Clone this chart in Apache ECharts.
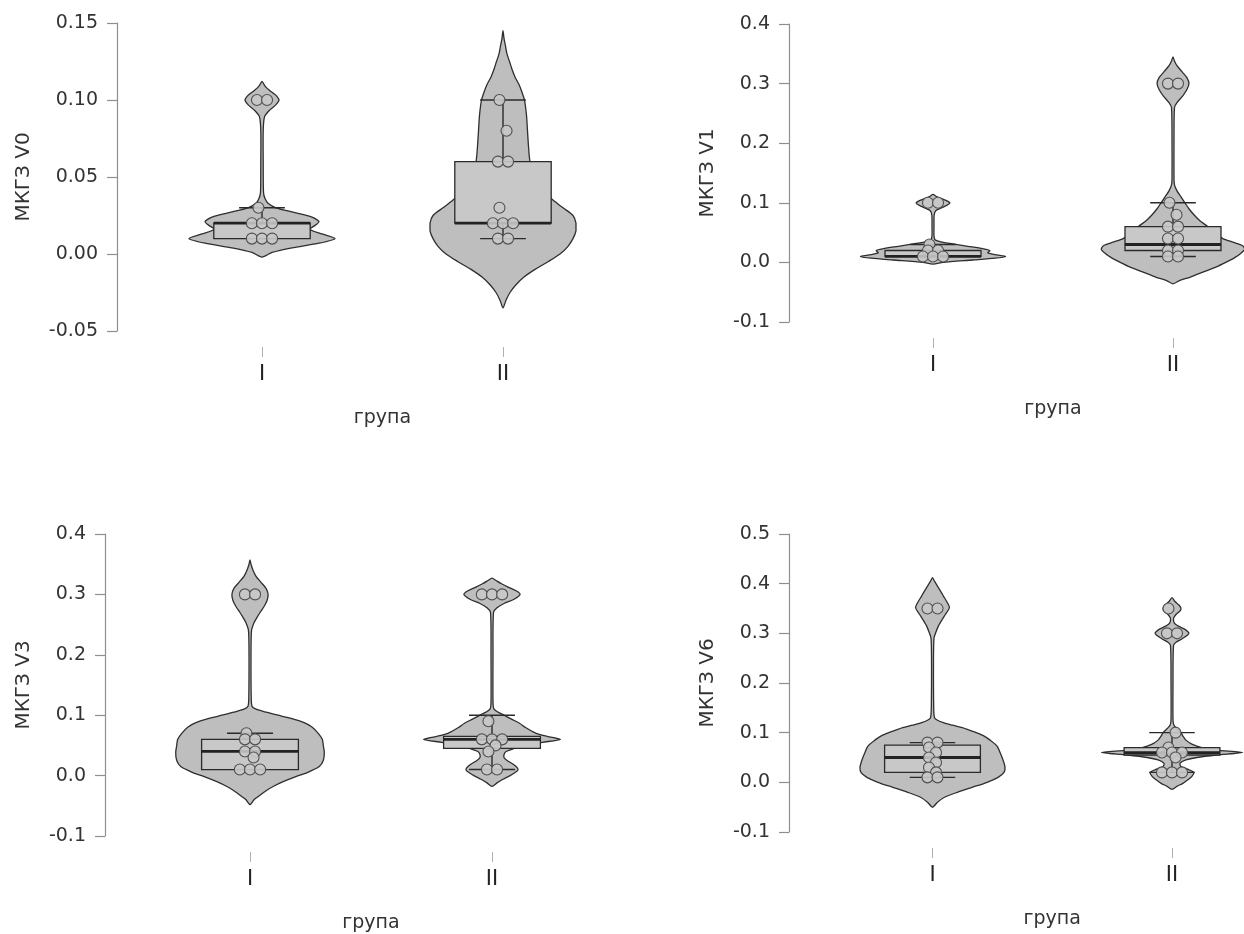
<!DOCTYPE html>
<html><head><meta charset="utf-8">
<script src="https://cdn.jsdelivr.net/npm/echarts@6/dist/echarts.min.js"></script>
<style>html,body{margin:0;padding:0;background:#fff}#c{width:1244px;height:934px}</style>
</head><body><div id="c"></div>
<script>
// ---------- DATA ----------
const groups = ['I', 'II'];
const xTitle = 'група';
const yTitles = ['МКГЗ V0', 'МКГЗ V1', 'МКГЗ V3', 'МКГЗ V6'];
const yMins = [-0.05, -0.1, -0.1, -0.1];
const yMaxs = [0.15, 0.4, 0.4, 0.5];
const yIntervals = [0.05, 0.1, 0.1, 0.1];
const yDecimals = [2, 1, 1, 1];

// observed values (points)
const v0Points_I  = [0.10, 0.10, 0.03, 0.02, 0.02, 0.02, 0.01, 0.01, 0.01];
const v0Points_II = [0.10, 0.08, 0.06, 0.06, 0.03, 0.02, 0.02, 0.02, 0.01, 0.01];
const v1Points_I  = [0.10, 0.10, 0.03, 0.02, 0.02, 0.01, 0.01, 0.01];
const v1Points_II = [0.30, 0.30, 0.10, 0.08, 0.06, 0.06, 0.04, 0.04, 0.02, 0.02, 0.01, 0.01];
const v3Points_I  = [0.30, 0.30, 0.07, 0.06, 0.06, 0.04, 0.04, 0.03, 0.01, 0.01, 0.01];
const v3Points_II = [0.30, 0.30, 0.30, 0.09, 0.06, 0.06, 0.06, 0.05, 0.04, 0.01, 0.01];
const v6Points_I  = [0.35, 0.35, 0.08, 0.08, 0.07, 0.06, 0.05, 0.04, 0.03, 0.02, 0.01, 0.01];
const v6Points_II = [0.35, 0.30, 0.30, 0.10, 0.07, 0.06, 0.06, 0.06, 0.05, 0.02, 0.02, 0.02];

// box stats: [lower whisker, Q1, median, Q3, upper whisker]
const v0Box_I  = [0.01, 0.01, 0.02, 0.02, 0.03];
const v0Box_II = [0.01, 0.02, 0.02, 0.06, 0.10];
const v1Box_I  = [0.01, 0.01, 0.01, 0.02, 0.03];
const v1Box_II = [0.01, 0.02, 0.03, 0.06, 0.10];
const v3Box_I  = [0.01, 0.01, 0.04, 0.06, 0.07];
const v3Box_II = [0.01, 0.045, 0.06, 0.065, 0.10];
const v6Box_I  = [0.01, 0.02, 0.05, 0.075, 0.08];
const v6Box_II = [0.02, 0.055, 0.06, 0.07, 0.10];

// violin outlines: [value, relative density] (peak density ~ 74)
const v0Violin_I = [[-0.002,0],[0.001,10],[0.004,30],[0.007,57],[0.010,73],[0.013,60],[0.016,48],[0.019,54],[0.021,57],[0.024,50],[0.027,32],[0.030,14],[0.033,6],[0.036,3],[0.040,1.5],[0.060,1.2],[0.080,1.2],[0.089,2.5],[0.093,7],[0.097,14],[0.100,17],[0.103,14],[0.106,8],[0.109,3],[0.112,0]];
const v0Violin_II = [[-0.035,0],[-0.030,3],[-0.025,7],[-0.020,13],[-0.015,21],[-0.010,32],[-0.005,45],[0.000,57],[0.005,65],[0.010,70],[0.015,73],[0.020,73],[0.025,70],[0.030,60],[0.035,50],[0.040,42],[0.050,32],[0.060,27],[0.070,25.5],[0.080,24.5],[0.090,23.5],[0.100,21.5],[0.105,19],[0.110,16],[0.115,12],[0.120,9],[0.125,6.5],[0.130,4],[0.135,2.5],[0.140,1],[0.145,0]];
const v1Violin_I = [[-0.003,0],[0.000,10],[0.004,40],[0.007,62],[0.010,73],[0.013,62],[0.016,55],[0.020,57],[0.023,50],[0.027,35],[0.031,20],[0.035,7],[0.038,2],[0.045,1],[0.060,1],[0.080,1.2],[0.087,3],[0.092,9],[0.096,14],[0.100,17],[0.104,13],[0.108,7],[0.111,3],[0.114,0]];
const v1Violin_II = [[-0.036,0],[-0.030,7],[-0.025,17],[-0.015,32],[-0.008,43],[0.000,53],[0.008,62],[0.015,68],[0.022,72],[0.028,70],[0.034,60],[0.040,50],[0.050,42],[0.060,35],[0.070,27],[0.080,21],[0.090,16],[0.100,12],[0.110,8],[0.120,4],[0.130,1.5],[0.140,1],[0.200,1],[0.260,1.5],[0.268,4],[0.280,10],[0.290,14],[0.300,16],[0.310,14],[0.320,9],[0.330,4],[0.338,1.5],[0.345,0]];
const v3Violin_I = [[-0.048,0],[-0.040,4],[-0.035,8],[-0.025,16],[-0.018,23],[-0.010,33],[-0.002,45],[0.005,57],[0.015,69],[0.025,73],[0.038,74],[0.050,73],[0.060,72],[0.070,68],[0.080,62],[0.087,55],[0.095,40],[0.100,28],[0.105,16],[0.110,6],[0.115,2],[0.130,1.2],[0.200,1],[0.240,1.5],[0.253,4],[0.262,7],[0.270,10],[0.280,14],[0.290,17],[0.300,18],[0.310,16],[0.320,11],[0.330,6],[0.340,3],[0.350,1],[0.357,0]];
const v3Violin_II = [[-0.018,0],[-0.012,5],[-0.006,11],[0.000,18],[0.005,23],[0.010,26],[0.015,24],[0.020,20],[0.025,15],[0.030,12],[0.035,12],[0.040,14],[0.045,22],[0.050,33],[0.055,50],[0.060,68],[0.065,55],[0.070,44],[0.075,38],[0.080,33],[0.087,27],[0.093,20],[0.100,12],[0.105,6],[0.110,2],[0.120,1],[0.200,1],[0.270,1.5],[0.278,5],[0.285,12],[0.292,22],[0.300,28],[0.306,24],[0.312,16],[0.318,9],[0.323,4],[0.327,0]];
const v6Violin_I = [[-0.050,0],[-0.040,5],[-0.030,12],[-0.020,25],[-0.010,40],[0.000,55],[0.010,66],[0.020,72],[0.030,73],[0.045,71],[0.060,68],[0.073,65],[0.085,58],[0.093,52],[0.100,44],[0.105,37],[0.110,30],[0.115,20],[0.120,11],[0.125,5],[0.130,2],[0.150,1.2],[0.250,1],[0.290,1.5],[0.300,3],[0.315,6],[0.322,8],[0.335,12],[0.352,17],[0.365,14],[0.375,11],[0.382,9],[0.395,5],[0.405,2],[0.412,0]];
const v6Violin_II = [[-0.014,0],[-0.008,5],[-0.002,11],[0.005,16],[0.012,20],[0.020,22],[0.027,15],[0.032,9],[0.038,8],[0.045,14],[0.050,25],[0.055,45],[0.060,71],[0.065,45],[0.070,30],[0.077,20],[0.085,14],[0.093,11],[0.100,9],[0.108,5],[0.115,2],[0.125,1],[0.200,1],[0.275,1.5],[0.282,4],[0.290,11],[0.300,17],[0.308,13],[0.315,6],[0.320,2.5],[0.330,1.5],[0.338,4],[0.345,8],[0.350,9],[0.357,7],[0.364,3],[0.372,0]];

// ---------- BUILD ----------
const panels = [
  {points:[v0Points_I, v0Points_II], boxes:[v0Box_I, v0Box_II], violins:[v0Violin_I, v0Violin_II]},
  {points:[v1Points_I, v1Points_II], boxes:[v1Box_I, v1Box_II], violins:[v1Violin_I, v1Violin_II]},
  {points:[v3Points_I, v3Points_II], boxes:[v3Box_I, v3Box_II], violins:[v3Violin_I, v3Violin_II]},
  {points:[v6Points_I, v6Points_II], boxes:[v6Box_I, v6Box_II], violins:[v6Violin_I, v6Violin_II]}
];
const DENS_PEAK = 74;
const FONT = 'DejaVu Sans';
// grid spans from category I to category II (boundaryGap false); y axis pushed left by offset
const layout = [
  {left:262, top:23, width:241, height:308, yOffset:145, nameGap:83},
  {left:933, top:24, width:240, height:298, yOffset:144, nameGap:71},
  {left:250, top:534, width:242, height:303, yOffset:145, nameGap:71},
  {left:932.5, top:534, width:239.5, height:298, yOffset:143.5, nameGap:71}
];

function bandOf(api) { return api.coord([1, 0])[0] - api.coord([0, 0])[0]; }

function violinRender(outlines) {
  return function (params, api) {
    const i = params.dataIndex;
    const band = bandOf(api);
    const scale = band * 0.307 / DENS_PEAK;
    const c = api.coord([i, 0])[0];
    const left = [], right = [];
    let yMin = Infinity, yMax = -Infinity;
    outlines[i].forEach(function (p) {
      const y = api.coord([i, p[0]])[1];
      const w = p[1] * scale;
      yMin = Math.min(yMin, y); yMax = Math.max(yMax, y);
      left.push([c - w, y]);
      if (p[1] > 0) right.push([c + w, y]);
    });
    return {
      type: 'polygon',
      shape: {points: left.concat(right.reverse()), smooth: 0.25,
        smoothConstraint: [[c, yMin], [c, yMax]]},
      style: {fill: '#bebebe', stroke: '#2e2e2e', lineWidth: 1.3}
    };
  };
}

function boxRender(boxes) {
  return function (params, api) {
    const i = params.dataIndex;
    const b = boxes[i];
    const band = bandOf(api);
    const c = api.coord([i, 0])[0];
    const bw = band * 0.2, cw = band * 0.095;
    const Y = function (v) { return api.coord([i, v])[1]; };
    const ls = {stroke: '#2a2a2a', lineWidth: 1.4};
    const ch = [];
    if (b[4] > b[3]) {
      ch.push({type: 'line', shape: {x1: c, y1: Y(b[3]), x2: c, y2: Y(b[4])}, style: ls});
      ch.push({type: 'line', shape: {x1: c - cw, y1: Y(b[4]), x2: c + cw, y2: Y(b[4])}, style: ls});
    }
    if (b[0] < b[1]) {
      ch.push({type: 'line', shape: {x1: c, y1: Y(b[1]), x2: c, y2: Y(b[0])}, style: ls});
      ch.push({type: 'line', shape: {x1: c - cw, y1: Y(b[0]), x2: c + cw, y2: Y(b[0])}, style: ls});
    }
    ch.push({type: 'rect', shape: {x: c - bw, y: Y(b[3]), width: 2 * bw, height: Y(b[1]) - Y(b[3])},
      style: {fill: '#c8c8c8', stroke: '#2a2a2a', lineWidth: 1.3}});
    ch.push({type: 'line', shape: {x1: c - bw, y1: Y(b[2]), x2: c + bw, y2: Y(b[2])},
      style: {stroke: '#222', lineWidth: 2.8}});
    return {type: 'group', children: ch};
  };
}

// horizontal jitter layout: equal values side by side, single values alternate left/right
function buildPoints(pointSets) {
  const data = [], offs = [];
  pointSets.forEach(function (vals, g) {
    const counts = {}, seen = {};
    let single = 0;
    vals.forEach(function (v) { counts[v] = (counts[v] || 0) + 1; });
    vals.forEach(function (v) {
      const k = seen[v] || 0; seen[v] = k + 1;
      data.push([g, v]);
      if (counts[v] === 1) { offs.push(single % 2 === 0 ? -0.35 : 0.35); single++; }
      else offs.push(k - (counts[v] - 1) / 2);
    });
  });
  return {data: data, offs: offs};
}

function pointRender(offs) {
  return function (params, api) {
    const p = api.coord([api.value(0), api.value(1)]);
    const band = bandOf(api);
    return {
      type: 'circle',
      shape: {cx: p[0] + offs[params.dataIndex] * band * 0.042, cy: p[1], r: 5.5},
      style: {fill: 'rgba(200,200,200,0.9)', stroke: '#505050', lineWidth: 1.1}
    };
  };
}

const grids = [], xAxes = [], yAxes = [], series = [];
panels.forEach(function (P, k) {
  const L = layout[k];
  grids.push({left: L.left, top: L.top, width: L.width, height: L.height});
  xAxes.push({
    type: 'category', gridIndex: k, data: groups, offset: 16, boundaryGap: false,
    axisLine: {show: true, onZero: false, lineStyle: {color: 'rgba(0,0,0,0)'}},
    axisTick: {show: true, length: 10, lineStyle: {color: '#b0b0b0', width: 1}},
    axisLabel: {fontSize: 21, color: '#222', margin: 17, fontFamily: FONT},
    splitLine: {show: false},
    name: xTitle, nameLocation: 'middle', nameGap: 62,
    nameTextStyle: {fontSize: 19, color: '#333', fontFamily: FONT}
  });
  const dec = yDecimals[k];
  yAxes.push({
    type: 'value', gridIndex: k, min: yMins[k], max: yMaxs[k], interval: yIntervals[k],
    position: 'left', offset: L.yOffset,
    axisLine: {show: true, onZero: false, lineStyle: {color: '#8f8f8f', width: 1.2}},
    axisTick: {show: true, length: 10, lineStyle: {color: '#8f8f8f', width: 1.2}},
    axisLabel: {fontSize: 19, color: '#333', margin: 19, fontFamily: FONT,
      formatter: function (v) { return (Math.abs(v) < 1e-9 ? 0 : v).toFixed(dec); }},
    splitLine: {show: false},
    name: yTitles[k], nameLocation: 'middle', nameGap: L.nameGap,
    nameTextStyle: {fontSize: 20, color: '#333', fontFamily: FONT}
  });
  series.push({
    type: 'custom', xAxisIndex: k, yAxisIndex: k, z: 2, clip: false,
    data: [[0, 0], [1, 0]], renderItem: violinRender(P.violins), silent: true
  });
  series.push({
    type: 'custom', xAxisIndex: k, yAxisIndex: k, z: 3, clip: false,
    data: [[0, 0], [1, 0]], renderItem: boxRender(P.boxes), silent: true
  });
  const pts = buildPoints(P.points);
  series.push({
    type: 'custom', xAxisIndex: k, yAxisIndex: k, z: 4, clip: false,
    data: pts.data, renderItem: pointRender(pts.offs), silent: true
  });
});

const chart = echarts.init(document.getElementById('c'), null, {renderer: 'canvas'});
chart.setOption({
  backgroundColor: '#ffffff',
  animation: false,
  grid: grids, xAxis: xAxes, yAxis: yAxes, series: series
});
</script>
</body></html>
